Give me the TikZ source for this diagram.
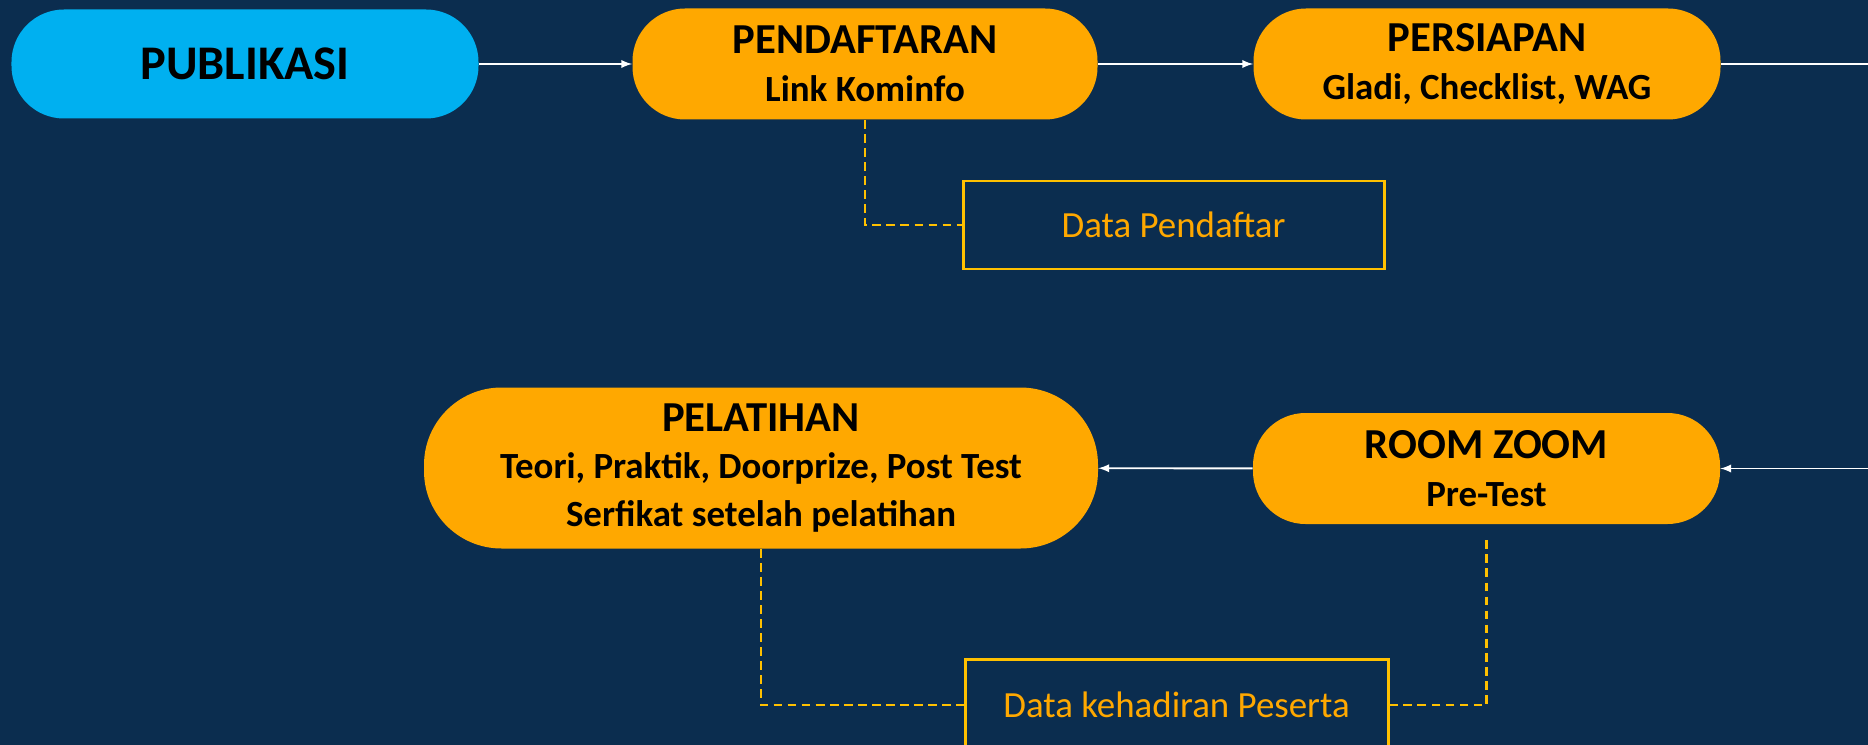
\documentclass[tikz,border=0pt]{standalone}
\usepackage{fontspec}
\setmainfont{Carlito}
\usepackage{xcolor}
\usetikzlibrary{arrows}

\definecolor{bgnavy}{HTML}{0B2D4F}
\definecolor{pubblue}{HTML}{00B0F0}
\definecolor{stageorange}{HTML}{FFA800}
\definecolor{datagold}{HTML}{FFC000}

\begin{document}
\begin{tikzpicture}[stage/.style={fill=stageorange,text=black,align=center,
   rounded corners=1.05cm,minimum width=9.3cm,minimum height=2.22cm,inner sep=0pt,
   font=\bfseries\fontsize{21}{27}\selectfont},
   datanode/.style={draw=datagold,line width=1.7pt,text=stageorange,
   minimum width=8.42cm,minimum height=1.76cm,font=\fontsize{21}{25}\selectfont},
   flow/.style={draw=white,line width=1.1pt,-latex},
   datalink/.style={draw=datagold,line width=1.2pt,dash pattern=on 5pt off 3pt}]
\useasboundingbox (0,0) rectangle (37.36,-14.9);
\clip (0,0) rectangle (37.36,-14.9);
\fill[bgnavy] (0,0) rectangle (37.36,-14.9);

% top row
\node[stage,fill=pubblue,minimum width=9.34cm,minimum height=2.18cm,
   font=\bfseries\fontsize{27.5}{30}\selectfont] (pub) at (4.90,-1.28) {PUBLIKASI};
\node[stage] (pend) at (17.30,-1.28) {{\fontsize{24.3}{27}\selectfont PENDAFTARAN}\\ Link Kominfo};
\node[stage,minimum width=9.34cm] (siap) at (29.74,-1.28) {{\fontsize{24.3}{27}\selectfont PERSIAPAN}\\ Gladi, Checklist, WAG};
\node[datanode] (dpend) at (23.47,-4.50) {Data Pendaftar};

% bottom row
\node[stage,minimum width=13.48cm,minimum height=3.22cm,rounded corners=1.55cm] (latih) at (15.22,-9.36)
   {{\fontsize{24.3}{27}\selectfont PELATIHAN}\\ Teori, Praktik, Doorprize, Post Test\\ Serfikat setelah pelatihan};
\node[stage,minimum width=9.34cm] (zoom) at (29.73,-9.37) {{\fontsize{24.3}{27}\selectfont ROOM ZOOM}\\ Pre-Test};
\node[datanode,minimum width=8.46cm,minimum height=1.84cm] (dhadir) at (23.53,-14.10) {Data kehadiran Peserta};

\coordinate (outtop) at (37.36,-1.28);
\coordinate (outbot) at (37.36,-9.37);

\draw[flow] (pub) -- (pend);
\draw[flow] (pend) -- (siap);
\draw[draw=white,line width=1.1pt] (siap) -- (outtop);
\draw[flow] (outbot) -- (zoom);
\draw[flow] (zoom) -- (latih);

\draw[datalink] (pend.south) |- (dpend.west);
\draw[datalink] (latih.south) |- (dhadir.west);
\draw[datalink,shorten <=0.32cm] (zoom.south) |- (dhadir.east);
\end{tikzpicture}
\end{document}
